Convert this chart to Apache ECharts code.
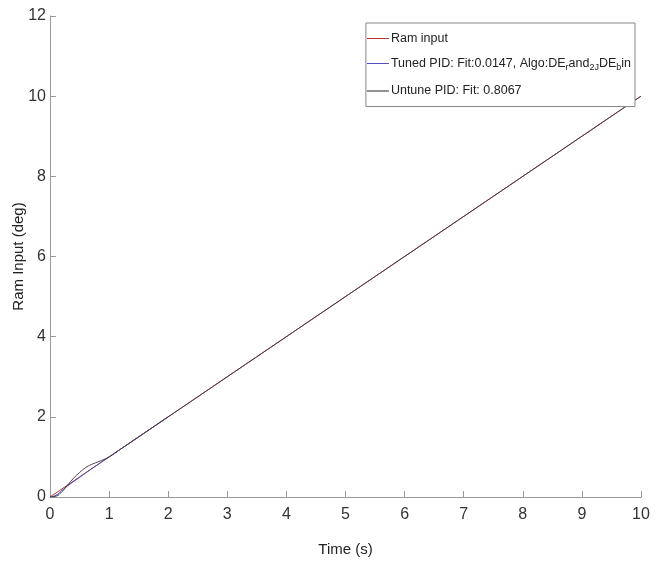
<!DOCTYPE html>
<html>
<head>
<meta charset="utf-8">
<script src="https://cdn.jsdelivr.net/npm/echarts@6/dist/echarts.min.js"></script>
<style>
  html, body { margin: 0; padding: 0; background: #fff; }
  #chart { width: 663px; height: 566px; }
</style>
</head>
<body>
<div id="chart"></div>
<script>
// ram input: straight ramp
var ramTime = [0, 10];
var ramValues = [0, 10];
// tuned PID response (only first 2 s drawn)
var tunedTime = [0, 0.1, 0.2, 0.3, 0.5, 0.7, 1.0, 1.5, 2.0];
var tunedValues = [0, 0.04, 0.16, 0.28, 0.49, 0.7, 1.0, 1.5, 2.0];
// untuned PID response
var untunedTime = [0, 0.1, 0.2, 0.3, 0.4, 0.5, 0.6, 0.7, 0.8, 0.9, 1.0, 1.2, 2.0, 10];
var untunedValues = [0, 0.02, 0.13, 0.3, 0.47, 0.61, 0.73, 0.81, 0.87, 0.93, 1.0, 1.2, 2.0, 10];
var xTicks = [0, 1, 2, 3, 4, 5, 6, 7, 8, 9, 10];
var yTicks = [0, 2, 4, 6, 8, 10, 12];

var font = '"Liberation Sans", Arial, sans-serif';

function pairs(t, v) {
    var out = [];
    for (var i = 0; i < t.length; i++) out.push([t[i], v[i]]);
    return out;
}

var chart = echarts.init(document.getElementById('chart'));
var option = {
    animation: false,
    backgroundColor: '#fff',
    grid: { left: 50, right: 22, top: 16, bottom: 69, containLabel: false, outerBoundsMode: 'none' },
    legend: {
        orient: 'vertical',
        right: 28,
        top: 23,
        padding: [9, 4, 9, 1],
        itemGap: 12,
        itemWidth: 22,
        itemHeight: 1,
        icon: 'rect',
        borderColor: '#888',
        borderWidth: 1,
        backgroundColor: '#fff',
        data: ['Ram input', 'Tuned PID', 'Untune PID'],
        formatter: function (name) {
            if (name === 'Tuned PID') {
                return 'Tuned PID: Fit:0.0147, Algo:DE{s|r}and{s|2J}DE{s|b}in';
            }
            if (name === 'Untune PID') return 'Untune PID: Fit: 0.8067';
            return name;
        },
        textStyle: {
            fontFamily: font,
            fontSize: 12.5,
            color: '#222',
            padding: [0, 0, 0, -3],
            rich: {
                s: { fontFamily: font, fontSize: 9, color: '#222', padding: [9, 0, 0, 0] }
            }
        }
    },
    xAxis: {
        type: 'value',
        min: 0,
        max: 10,
        interval: 1,
        name: 'Time (s)',
        nameLocation: 'middle',
        nameGap: 45,
        nameMoveOverlap: false,
        nameTextStyle: { fontFamily: font, fontSize: 15, color: '#222' },
        axisLine: { lineStyle: { color: '#999' } },
        axisTick: { inside: true, length: 6, lineStyle: { color: '#999' } },
        axisLabel: { fontFamily: font, fontSize: 16, color: '#333', margin: 10 },
        splitLine: { show: false },
        data: xTicks
    },
    yAxis: {
        type: 'value',
        min: 0,
        max: 12,
        interval: 2,
        name: 'Ram Input (deg)',
        nameLocation: 'middle',
        nameGap: 24,
        nameMoveOverlap: false,
        nameTextStyle: { fontFamily: font, fontSize: 15, color: '#222' },
        axisLine: { show: true, lineStyle: { color: '#999' } },
        axisTick: { show: true, inside: true, length: 6, lineStyle: { color: '#999' } },
        axisLabel: { fontFamily: font, fontSize: 16, color: '#333', margin: 4 },
        splitLine: { show: false },
        data: yTicks
    },
    series: [
        {
            name: 'Ram input',
            type: 'line',
            data: pairs(ramTime, ramValues),
            showSymbol: false,
            symbol: 'none',
            color: '#b03838',
            lineStyle: { width: 1, color: '#b03838' }
        },
        {
            name: 'Tuned PID',
            type: 'line',
            data: pairs(tunedTime, tunedValues),
            smooth: true,
            symbol: 'none',
            color: '#5050b8',
            lineStyle: { width: 1, color: '#4848b0' }
        },
        {
            name: 'Untune PID',
            type: 'line',
            data: pairs(untunedTime, untunedValues),
            smooth: true,
            symbol: 'none',
            color: '#222',
            lineStyle: { width: 1, color: '#4a3a4a' }
        }
    ]
};
chart.setOption(option);
</script>
</body>
</html>
